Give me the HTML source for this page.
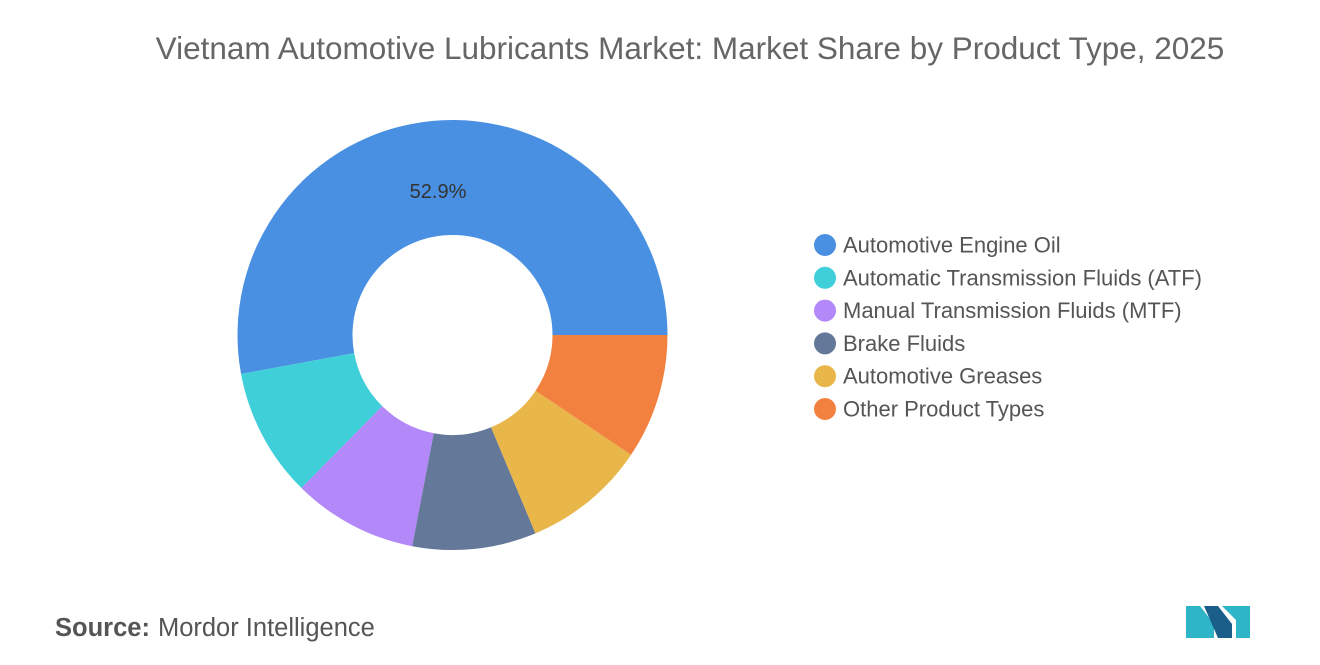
<!DOCTYPE html>
<html><head><meta charset="utf-8"><style>
body{margin:0;background:#fff;font-family:"Liberation Sans",sans-serif;}
#wrap{position:relative;width:1320px;height:665px;overflow:hidden;}
</style></head><body>
<div id="wrap">
<svg id="svg" width="1320" height="665" xmlns="http://www.w3.org/2000/svg">
<text x="690" y="59" text-anchor="middle" font-size="31.5" fill="#666">Vietnam Automotive Lubricants Market: Market Share by Product Type, 2025</text>
<g id="donut"></g>
<g id="legend"></g>
<text x="55" y="636" font-size="25.5" fill="#555"><tspan font-weight="bold">Source:</tspan><tspan dx="8">Mordor Intelligence</tspan></text>
<g>
<polygon points="1186,638 1186,606 1200,606 1214,624 1214,638" fill="#2fb5c8"/>
<polygon points="1204,606 1218,606 1232,624 1232,638 1218,638" fill="#1a5e8a"/>
<polygon points="1222,606 1250,606 1250,638 1236,638 1236,620" fill="#2fb5c8"/>
</g>
</svg>
<script>
const categories=["Automotive Engine Oil","Automatic Transmission Fluids (ATF)","Manual Transmission Fluids (MTF)","Brake Fluids","Automotive Greases","Other Product Types"];
const values=[52.9,9.7,9.4,9.3,9.3,9.4];
const colors=["#4a90e2","#3ecfd9","#b388f9","#64789a","#e9b64a","#f2813f"];
const shownLabels=["52.9%","","","","",""];
const NS="http://www.w3.org/2000/svg";
const cx=452.5,cy=335,R=215,r=100;
const total=values.reduce((a,b)=>a+b,0);
const g=document.getElementById('donut');
let a0=0;
function pt(rad,a){return [cx+rad*Math.cos(a),cy-rad*Math.sin(a)];}
values.forEach((v,i)=>{
 const a1=a0+v/total*2*Math.PI;
 const large=(a1-a0)>Math.PI?1:0;
 const [x0,y0]=pt(R,a0),[x1,y1]=pt(R,a1),[x2,y2]=pt(r,a1),[x3,y3]=pt(r,a0);
 const p=document.createElementNS(NS,'path');
 p.setAttribute('d',`M${x0},${y0} A${R},${R} 0 ${large} 0 ${x1},${y1} L${x2},${y2} A${r},${r} 0 ${large} 1 ${x3},${y3} Z`);
 p.setAttribute('fill',colors[i]);
 
 
 g.appendChild(p);
 if(shownLabels[i]){
  const t=document.createElementNS(NS,'text');
  t.setAttribute('x',438);t.setAttribute('y',198);
  t.setAttribute('text-anchor','middle');t.setAttribute('font-size','20');t.setAttribute('fill','#333');
  t.textContent=shownLabels[i];
  
  
  g.appendChild(t);
 }
 a0=a1;
});
const lg=document.getElementById('legend');
categories.forEach((c,i)=>{
 const y=245+i*32.8;
 const ci=document.createElementNS(NS,'circle');
 ci.setAttribute('cx',825);ci.setAttribute('cy',y);ci.setAttribute('r',11);ci.setAttribute('fill',colors[i]);
 
 
 lg.appendChild(ci);
 const t=document.createElementNS(NS,'text');
 t.setAttribute('x',843);t.setAttribute('y',y+7.5);t.setAttribute('font-size','22');t.setAttribute('fill','#555');
 t.textContent=c;
 
 
 lg.appendChild(t);
});
</script>
</div>
</body></html>
